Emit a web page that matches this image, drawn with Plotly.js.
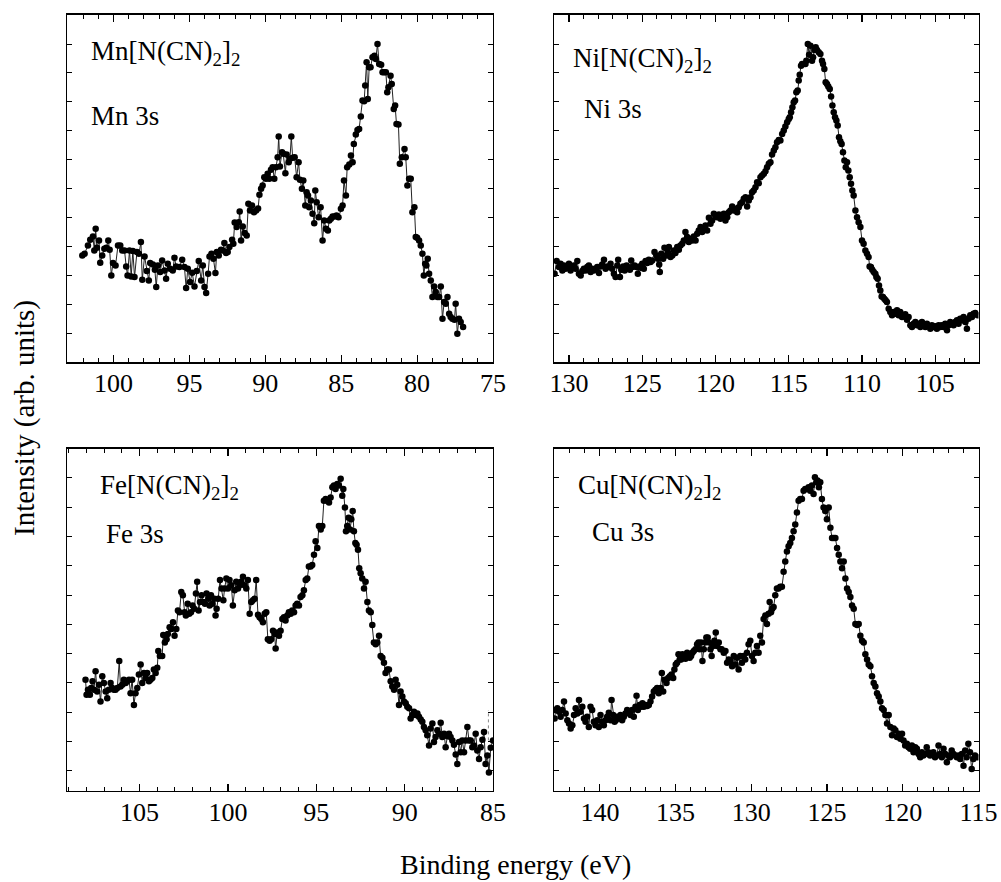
<!DOCTYPE html>
<html>
<head>
<meta charset="utf-8">
<script src="https://cdn.plot.ly/plotly-3.0.1.min.js"></script>
<style>html,body{margin:0;padding:0;background:#fff;}#chart{width:1001px;height:882px;}</style>
</head>
<body>
<div id="chart"></div>
<script>
// ---- Mn 3s ----
var mnEnergy = [102.06,101.91,101.69,101.54,101.36,101.27,101.18,101.10,100.96,100.88,100.75,100.61,100.48,100.35,100.26,100.15,100.04,99.87,99.71,99.56,99.43,99.28,99.17,99.08,98.95,98.84,98.73,98.62,98.46,98.33,98.20,98.11,97.96,97.81,97.68,97.59,97.41,97.28,97.19,97.08,96.93,96.80,96.64,96.54,96.43,96.27,96.10,95.99,95.88,95.66,95.48,95.33,95.22,95.11,94.96,94.82,94.67,94.52,94.39,94.23,94.12,94.01,93.90,93.77,93.68,93.55,93.42,93.29,93.20,93.07,92.92,92.81,92.70,92.59,92.48,92.37,92.19,92.11,92.02,91.89,91.75,91.69,91.60,91.49,91.36,91.23,91.12,91.01,90.88,90.75,90.61,90.48,90.39,90.28,90.18,90.07,89.96,89.85,89.74,89.63,89.52,89.41,89.30,89.19,89.12,89.04,88.90,88.82,88.68,88.60,88.46,88.38,88.29,88.20,88.07,87.94,87.81,87.72,87.59,87.50,87.37,87.28,87.19,87.11,87.00,86.89,86.78,86.71,86.62,86.49,86.36,86.23,86.12,86.01,85.88,85.79,85.68,85.57,85.44,85.31,85.18,85.02,84.91,84.82,84.69,84.61,84.47,84.36,84.25,84.17,84.04,83.93,83.82,83.71,83.60,83.49,83.42,83.33,83.25,83.16,83.07,82.94,82.81,82.72,82.61,82.50,82.37,82.28,82.17,82.06,81.97,81.89,81.75,81.67,81.54,81.45,81.36,81.23,81.14,81.01,80.83,80.75,80.64,80.53,80.42,80.31,80.18,80.09,80.00,79.87,79.76,79.65,79.56,79.47,79.39,79.30,79.21,79.10,78.99,78.88,78.77,78.66,78.55,78.44,78.33,78.22,78.11,78.00,77.89,77.79,77.68,77.54,77.46,77.35,77.24,77.13,76.97];
var mnIntensity = [321,326,351,368,378,336,401,344,366,299,321,341,344,366,338,261,298,291,351,351,336,336,288,261,336,258,334,256,331,326,361,248,318,274,246,298,294,278,226,291,271,306,276,251,296,281,276,314,288,286,308,286,223,281,241,269,228,274,304,246,291,226,208,266,318,326,311,268,331,321,338,336,358,328,331,346,368,356,420,406,421,453,366,408,388,381,476,456,471,451,456,462,503,521,531,556,551,566,551,578,586,551,586,616,678,588,631,626,568,624,601,611,678,614,616,556,601,548,521,546,471,511,501,466,486,446,418,516,481,436,466,366,426,401,396,426,431,438,438,441,436,461,471,546,501,586,594,621,601,656,684,698,701,738,786,784,831,901,791,886,886,916,921,911,956,896,894,871,871,871,811,826,861,836,761,771,716,714,596,616,641,616,531,551,551,451,466,376,374,366,351,326,261,296,291,311,266,246,196,228,211,196,196,228,131,181,176,196,146,136,131,128,176,86,131,121,106];

// ---- Ni 3s ----
var niEnergy = [130.98,130.84,130.68,130.57,130.45,130.34,130.23,130.11,130.00,129.89,129.77,129.66,129.55,129.43,129.32,129.20,129.09,128.98,128.86,128.75,128.64,128.52,128.41,128.30,128.18,128.07,127.95,127.84,127.73,127.61,127.50,127.39,127.27,127.16,127.05,126.93,126.82,126.70,126.64,126.52,126.43,126.30,126.20,126.07,125.98,125.84,125.75,125.66,125.52,125.39,125.30,125.20,125.11,125.00,124.89,124.77,124.66,124.55,124.43,124.32,124.16,124.02,123.93,123.84,123.80,123.70,123.57,123.48,123.34,123.25,123.18,123.07,122.95,122.84,122.73,122.61,122.50,122.39,122.27,122.16,122.05,121.93,121.82,121.70,121.59,121.48,121.36,121.25,121.14,121.02,120.91,120.80,120.68,120.57,120.45,120.34,120.23,120.11,120.00,119.89,119.77,119.66,119.55,119.43,119.32,119.20,119.09,118.98,118.86,118.75,118.64,118.52,118.41,118.30,118.18,118.07,117.95,117.84,117.73,117.61,117.50,117.39,117.27,117.16,117.05,116.93,116.82,116.70,116.59,116.48,116.36,116.25,116.14,116.02,115.91,115.80,115.68,115.57,115.45,115.34,115.23,115.11,115.00,114.93,114.84,114.75,114.66,114.57,114.48,114.39,114.32,114.25,114.16,114.09,113.98,113.86,113.80,113.70,113.61,113.52,113.41,113.34,113.25,113.16,113.07,112.95,112.84,112.73,112.66,112.57,112.48,112.39,112.30,112.20,112.11,112.02,111.93,111.84,111.75,111.66,111.57,111.48,111.39,111.30,111.20,111.11,111.02,110.93,110.84,110.75,110.66,110.57,110.45,110.34,110.23,110.11,110.00,109.89,109.77,109.66,109.55,109.48,109.39,109.30,109.20,109.09,109.02,108.93,108.84,108.75,108.66,108.57,108.48,108.39,108.30,108.18,108.07,107.95,107.84,107.73,107.61,107.50,107.39,107.27,107.16,107.05,106.93,106.82,106.70,106.59,106.48,106.36,106.25,106.14,106.02,105.91,105.80,105.68,105.57,105.45,105.34,105.23,105.11,105.00,104.89,104.77,104.66,104.55,104.43,104.32,104.20,104.09,103.98,103.86,103.75,103.64,103.52,103.41,103.30,103.18,103.07,102.95,102.84,102.73,102.61,102.50,102.39,102.27,102.11];
var niIntensity = [266,304,286,296,276,291,281,286,296,276,286,291,281,304,266,261,274,281,276,286,291,271,281,276,281,286,268,288,294,308,281,288,286,296,281,266,256,291,308,256,278,288,276,291,286,278,306,286,291,286,266,288,284,296,281,304,298,308,301,306,331,321,311,294,271,326,311,344,321,331,346,316,321,336,328,346,338,351,356,366,391,376,361,371,366,378,366,386,396,406,391,401,411,396,434,416,426,446,441,436,444,431,441,446,426,436,451,456,468,456,461,451,466,476,481,491,496,468,486,496,511,516,526,541,538,556,561,566,574,586,596,601,624,636,646,661,668,666,686,696,708,721,731,736,751,766,781,786,811,816,846,864,891,896,896,896,906,956,924,951,906,916,938,946,938,931,926,906,896,881,841,836,828,821,798,771,751,736,726,711,676,664,656,631,606,586,601,576,556,536,516,501,456,436,421,406,366,356,336,326,316,288,286,278,271,266,256,251,231,216,198,196,191,186,181,161,151,141,151,146,156,141,151,136,138,144,128,136,111,106,116,121,111,116,106,121,111,106,116,108,101,111,106,108,101,111,106,111,106,116,96,111,121,116,111,121,126,116,131,126,136,121,101,131,141,136,146,148,141];

// ---- Fe 3s ----
var feEnergy = [108.06,108.00,107.92,107.81,107.74,107.66,107.58,107.49,107.40,107.30,107.21,107.11,107.02,106.92,106.83,106.74,106.64,106.55,106.45,106.36,106.26,106.15,106.08,105.98,105.89,105.79,105.70,105.60,105.51,105.42,105.32,105.23,105.13,105.04,104.94,104.85,104.75,104.66,104.57,104.47,104.38,104.28,104.19,104.09,104.00,103.94,103.85,103.72,103.66,103.57,103.47,103.40,103.30,103.21,103.11,103.02,102.92,102.83,102.74,102.64,102.55,102.45,102.38,102.28,102.19,102.09,102.00,101.91,101.81,101.74,101.66,101.58,101.49,101.40,101.30,101.21,101.11,101.04,100.96,100.87,100.77,100.70,100.64,100.55,100.45,100.36,100.26,100.19,100.09,100.00,99.91,99.81,99.72,99.62,99.53,99.43,99.34,99.25,99.15,99.06,98.96,98.87,98.77,98.68,98.58,98.49,98.40,98.30,98.21,98.11,98.02,97.92,97.83,97.74,97.64,97.55,97.45,97.36,97.30,97.21,97.11,97.02,96.92,96.83,96.74,96.64,96.55,96.45,96.36,96.26,96.17,96.08,95.98,95.89,95.79,95.70,95.60,95.51,95.42,95.32,95.23,95.13,95.04,94.94,94.85,94.75,94.66,94.57,94.47,94.38,94.28,94.19,94.09,94.00,93.91,93.81,93.72,93.62,93.53,93.47,93.38,93.32,93.25,93.17,93.09,93.02,92.94,92.87,92.79,92.72,92.64,92.57,92.49,92.40,92.30,92.21,92.11,92.02,91.92,91.83,91.74,91.64,91.55,91.45,91.36,91.26,91.17,91.08,90.98,90.89,90.79,90.70,90.60,90.51,90.42,90.32,90.23,90.13,90.04,89.94,89.85,89.75,89.66,89.57,89.47,89.38,89.28,89.19,89.09,89.00,88.91,88.81,88.72,88.62,88.53,88.43,88.34,88.25,88.15,88.06,87.96,87.87,87.77,87.68,87.58,87.49,87.40,87.30,87.21,87.11,87.02,86.92,86.83,86.74,86.64,86.55,86.45,86.36,86.26,86.17,86.08,85.98,85.89,85.79,85.70,85.60,85.51,85.42,85.32,85.23,85.13,85.00];
var feIntensity = [330,285,300,285,305,325,300,355,295,315,265,340,320,295,275,300,320,305,300,300,305,385,310,315,330,320,325,330,290,330,255,290,305,345,375,320,350,335,350,325,330,335,360,350,365,415,400,400,462,440,450,465,485,480,500,460,480,535,530,590,580,530,520,555,525,530,550,540,585,620,535,560,580,560,555,585,570,550,580,555,570,520,540,570,625,600,565,600,630,600,625,610,550,595,620,600,610,620,635,610,600,625,525,560,565,570,625,522,515,510,500,525,530,450,445,450,475,465,422,470,460,475,510,515,505,520,530,525,535,530,550,555,550,575,580,595,625,630,665,665,670,700,740,720,785,775,785,860,865,860,855,870,900,905,895,910,905,925,875,895,840,770,785,810,775,805,830,770,735,730,715,660,645,630,600,620,560,535,530,492,440,435,440,460,400,395,380,350,360,360,325,310,300,330,315,255,295,280,265,260,250,245,215,225,235,225,230,220,212,205,190,180,165,135,185,200,145,160,180,170,202,160,170,130,162,170,160,150,137,108,80,145,115,150,115,150,190,150,150,130,135,170,120,95,130,152,175,80,105,55,128,150];
// short dotted marker drawn near the right edge of the Fe panel
var feMarkEnergy = [85.26, 85.26];
var feMarkIntensity = [150, 240];

// ---- Cu 3s ----
var cuEnergy = [142.99,142.92,142.81,142.70,142.59,142.48,142.37,142.26,142.15,142.04,141.93,141.82,141.71,141.60,141.49,141.38,141.27,141.16,141.05,140.95,140.84,140.73,140.62,140.51,140.40,140.29,140.18,140.07,139.96,139.85,139.74,139.63,139.52,139.41,139.30,139.23,139.12,139.03,138.95,138.86,138.75,138.64,138.53,138.42,138.31,138.20,138.09,137.98,137.87,137.76,137.65,137.58,137.49,137.38,137.27,137.19,137.10,136.99,136.88,136.77,136.66,136.55,136.44,136.33,136.22,136.11,136.00,135.91,135.82,135.74,135.60,135.49,135.38,135.27,135.16,135.08,134.99,134.90,134.81,134.73,134.64,134.55,134.46,134.35,134.24,134.15,134.07,133.98,133.89,133.80,133.69,133.58,133.49,133.41,133.32,133.23,133.14,133.05,132.97,132.88,132.79,132.70,132.62,132.53,132.44,132.35,132.26,132.15,132.04,131.96,131.82,131.71,131.60,131.49,131.38,131.27,131.16,131.05,130.95,130.84,130.73,130.62,130.51,130.40,130.29,130.18,130.07,129.96,129.85,129.74,129.63,129.52,129.41,129.30,129.19,129.08,128.97,128.86,128.79,128.70,128.62,128.53,128.42,128.31,128.20,128.09,127.98,127.87,127.76,127.65,127.54,127.43,127.32,127.21,127.10,126.99,126.88,126.77,126.66,126.55,126.44,126.33,126.22,126.11,126.00,125.89,125.80,125.71,125.63,125.54,125.45,125.34,125.23,125.12,125.01,124.89,124.78,124.67,124.56,124.45,124.34,124.23,124.12,124.01,123.90,123.79,123.68,123.57,123.46,123.35,123.24,123.13,123.02,122.91,122.80,122.69,122.58,122.47,122.36,122.25,122.14,122.03,121.92,121.81,121.70,121.59,121.48,121.37,121.26,121.15,121.04,120.93,120.82,120.71,120.60,120.49,120.38,120.27,120.16,120.05,119.95,119.84,119.73,119.62,119.51,119.40,119.29,119.18,119.07,118.96,118.85,118.74,118.64,118.53,118.42,118.31,118.20,118.09,117.98,117.87,117.75,117.64,117.53,117.42,117.31,117.20,117.09,116.98,116.88,116.77,116.65,116.54,116.43,116.32,116.21,116.10,115.99,115.88,115.78,115.67,115.56,115.45,115.34,115.23,115.08];
var cuIntensity = [215,240,245,235,220,240,265,230,210,200,185,195,225,245,230,270,235,250,215,205,220,190,250,240,205,195,210,190,225,205,195,210,220,232,210,270,225,205,210,220,215,225,210,220,230,240,235,225,240,220,250,282,240,255,250,260,250,255,252,255,265,280,295,300,305,290,305,350,295,330,320,335,340,345,335,360,375,380,405,390,390,405,400,392,410,400,395,400,410,415,420,435,440,420,440,385,420,440,455,455,440,420,400,430,445,470,430,440,420,420,410,415,380,390,385,370,400,375,395,360,400,380,400,390,410,435,445,400,385,410,430,410,460,440,510,520,495,525,560,530,540,545,580,600,600,605,605,650,680,710,725,735,750,770,790,825,860,865,865,890,895,895,900,890,905,880,930,915,920,900,915,865,840,830,805,840,780,750,750,750,720,700,680,660,680,630,600,590,575,550,540,495,492,495,460,445,440,405,390,375,370,340,320,310,290,280,265,245,240,225,200,225,190,165,185,180,160,170,155,170,150,135,140,130,125,135,115,130,125,110,100,115,105,110,130,115,105,110,115,100,105,135,110,100,125,110,85,105,100,120,110,105,100,105,95,110,75,120,100,140,115,65,95,105,100];

// ---- labels ----
var panelNames = ['Mn[N(CN)<sub>2</sub>]<sub>2</sub>','Ni[N(CN)<sub>2</sub>]<sub>2</sub>','Fe[N(CN)<sub>2</sub>]<sub>2</sub>','Cu[N(CN)<sub>2</sub>]<sub>2</sub>'];
var panelLevels = ['Mn 3s','Ni 3s','Fe 3s','Cu 3s'];
var xTitle = 'Binding energy (eV)';
var yTitle = 'Intensity (arb. units)';

var W = 1001, H = 882;
function px(x){return x/W;}
function py(y){return 1-y/H;}
var FONT = "'Liberation Serif', 'Times New Roman', Times, serif";

var series = [[mnEnergy,mnIntensity],[niEnergy,niIntensity],[feEnergy,feIntensity],[cuEnergy,cuIntensity]];
var data = series.map(function(s,i){
  var suf = i===0 ? '' : String(i+1);
  return {x:s[0], y:s[1], xaxis:'x'+suf, yaxis:'y'+suf, type:'scatter', mode:'lines+markers',
    line:{color:'#222', width:1}, marker:{color:'#000', size:6.5}, showlegend:false, hoverinfo:'skip'};
});
data.push({x:feMarkEnergy, y:feMarkIntensity, xaxis:'x3', yaxis:'y3', type:'scatter', mode:'lines',
  line:{color:'#888', width:1, dash:'dot'}, showlegend:false, hoverinfo:'skip'});

function xax(dom, range, anchor){
  return {domain:dom, range:range, anchor:anchor, showline:true, mirror:'ticks', linecolor:'#000', linewidth:1.3,
    ticks:'inside', ticklen:7, tickwidth:1.2, tickcolor:'#000', tick0:0, dtick:5,
    minor:{dtick:1, ticks:'inside', ticklen:4, tickwidth:1, tickcolor:'#000', showgrid:false},
    showgrid:false, zeroline:false, ticklabelstandoff:-3,
    tickfont:{family:FONT, size:26, color:'#000'}};
}
function yax(dom, range, t0, anchor){
  return {domain:dom, range:range, anchor:anchor, showline:true, mirror:'ticks', linecolor:'#000', linewidth:1.3,
    ticks:'inside', ticklen:5, tickwidth:1, tickcolor:'#000', tick0:t0, dtick:86.8,
    showticklabels:false, showgrid:false, zeroline:false};
}
var topY = [py(362.3), py(14.7)], botY = [py(791), py(448.5)];
var leftX = [px(67.3), px(493)], rightX = [px(554), px(978.5)];

var ann = [];
var namePos = [[89,53],[571,60],[98,487],[576,487]];
var levelPos = [[89,116],[582,109],[104,534],[590,532]];
for (var i=0;i<4;i++){
  ann.push({xref:'paper', yref:'paper', x:px(namePos[i][0]), y:py(namePos[i][1]), xanchor:'left', yanchor:'middle',
    text:panelNames[i], showarrow:false, font:{family:FONT, size:27, color:'#000'}});
  ann.push({xref:'paper', yref:'paper', x:px(levelPos[i][0]), y:py(levelPos[i][1]), xanchor:'left', yanchor:'middle',
    text:panelLevels[i], showarrow:false, font:{family:FONT, size:27, color:'#000'}});
}
ann.push({xref:'paper', yref:'paper', x:px(515), y:py(864), xanchor:'center', yanchor:'middle', text:xTitle,
  showarrow:false, font:{family:FONT, size:28, color:'#000'}});
ann.push({xref:'paper', yref:'paper', x:px(25), y:py(418), xanchor:'center', yanchor:'middle', text:yTitle,
  textangle:-90, showarrow:false, font:{family:FONT, size:29, color:'#000'}});

var layout = {
  width:W, height:H, margin:{l:0, r:0, t:0, b:0}, paper_bgcolor:'#fff', plot_bgcolor:'#fff',
  font:{family:FONT, color:'#000'},
  xaxis: xax(leftX, [103.05, 75], 'y'),  yaxis: yax(topY, [0, 1044], 88, 'x'),
  xaxis2: xax(rightX, [131.02, 102.05], 'y2'), yaxis2: yax(topY, [0, 1044], 88, 'x2'),
  xaxis3: xax(leftX, [109.09, 85], 'y3'), yaxis3: yax(botY, [0, 1015], 60, 'x3'),
  xaxis4: xax(rightX, [143.03, 115], 'y4'), yaxis4: yax(botY, [0, 1015], 60, 'x4'),
  annotations: ann
};
Plotly.newPlot('chart', data, layout, {staticPlot:true, displayModeBar:false});
</script>
</body>
</html>
